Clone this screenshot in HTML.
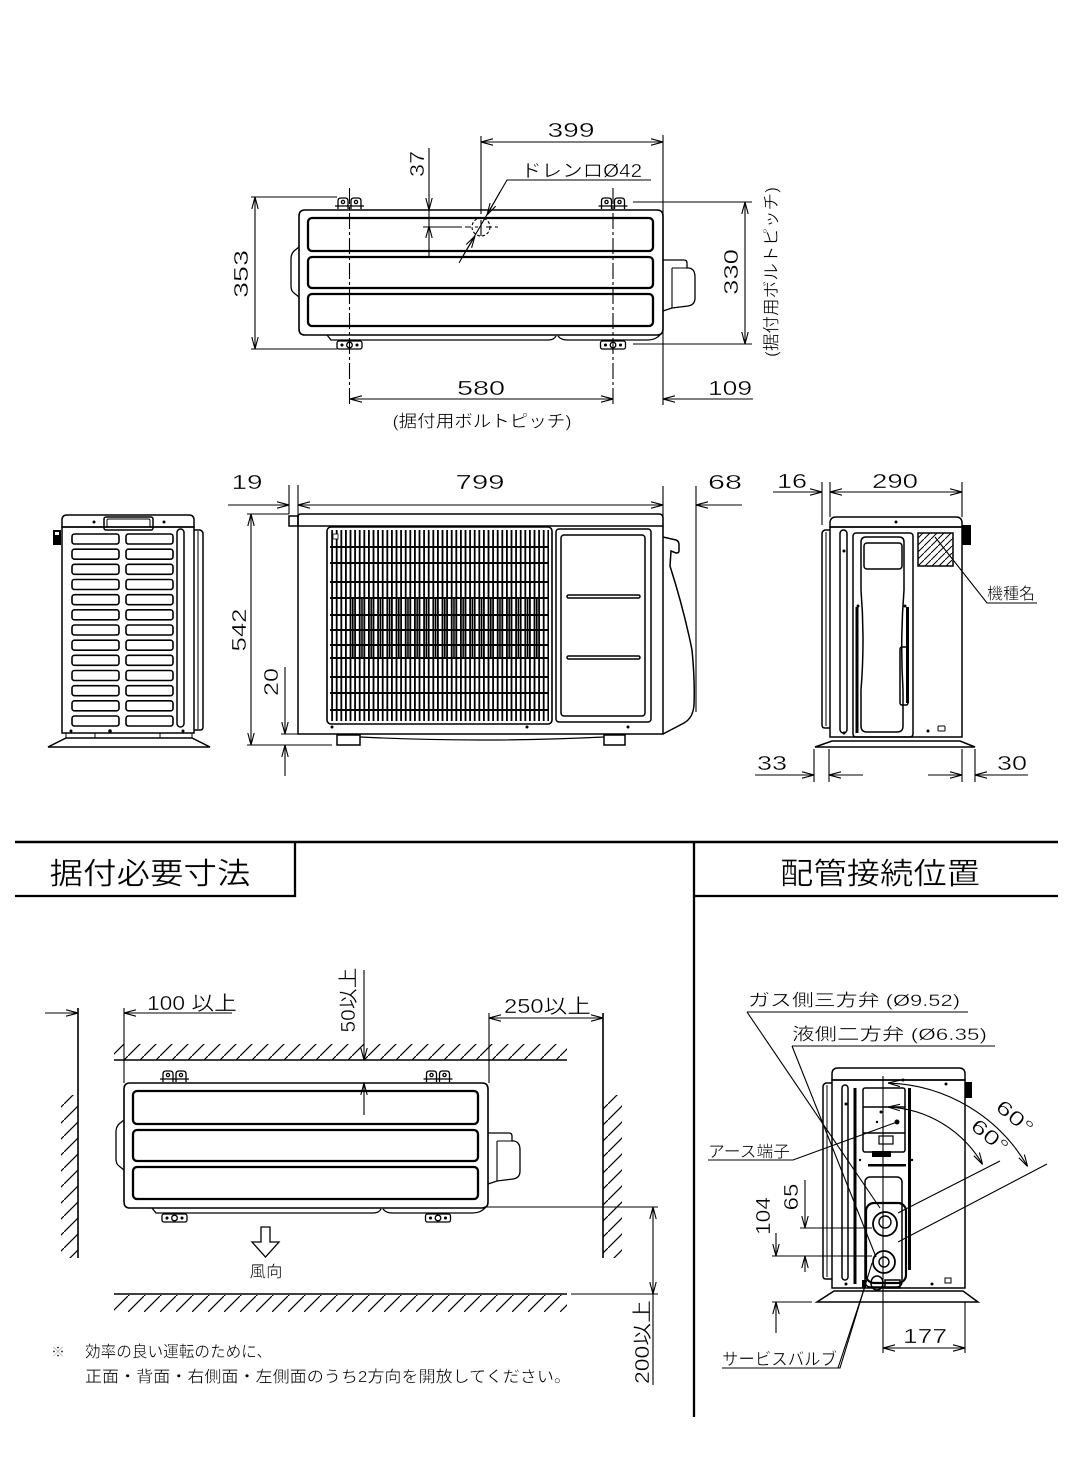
<!DOCTYPE html>
<html><head><meta charset="utf-8"><style>
html,body{margin:0;padding:0;background:#fff;}
svg{display:block;}
text{font-family:"Liberation Sans","Noto Sans CJK JP",sans-serif;fill:#000;stroke:#fff;stroke-width:0.35;}
.d{stroke:#000;stroke-width:1.1;fill:none;}
.dm{marker-start:url(#a);marker-end:url(#a);}
.de{marker-end:url(#a);}
.cl{stroke-dasharray:16 3 3 3;}
</style></head><body>
<svg width="1073" height="1477" viewBox="0 0 1073 1477" xmlns="http://www.w3.org/2000/svg">
<defs>
<marker id="a" viewBox="0 0 12 8" refX="12" refY="4" markerWidth="12" markerHeight="8" markerUnits="userSpaceOnUse" orient="auto-start-reverse"><path d="M0,0.8 L12,4 L0,7.2" fill="none" stroke="#000" stroke-width="1.1"/></marker>
<pattern id="h16" width="16" height="16" patternUnits="userSpaceOnUse"><path d="M0,16 L16,0" stroke="#000" stroke-width="1.2"/></pattern>
<pattern id="h7" width="7" height="7" patternUnits="userSpaceOnUse"><path d="M0,7 L7,0" stroke="#000" stroke-width="1"/></pattern>
<pattern id="vg" width="4.6" height="10" patternUnits="userSpaceOnUse"><rect x="0" y="0" width="1.8" height="10" fill="#000"/></pattern>
<pattern id="vg2" width="9.2" height="10" patternUnits="userSpaceOnUse"><rect x="2.4" y="0" width="1.6" height="10" fill="#000"/></pattern>
<g id="tu" fill="none" stroke="#000">
 <path d="M305,210 H657 Q663,210 663,216 V329 Q663,335 657,335 H305 Q299,335 299,329 V216 Q299,210 305,210 Z" stroke-width="1.6"/>
 <path d="M299,247 L294,251 Q291,254 291,259 V286 Q291,291 294,293 L299,297" stroke-width="1.3"/>
 <rect x="308" y="218" width="345" height="33" rx="4" stroke-width="2.3"/>
 <rect x="308" y="257" width="345" height="31" rx="4" stroke-width="2.3"/>
 <rect x="308" y="294" width="345" height="32" rx="4" stroke-width="2.3"/>
 <path d="M327,335 L331,340 H548 Q554,340 556,336" stroke-width="1.3"/>
 <path d="M558,336 Q561,340 567,340 H648 Q656,340 661,334" stroke-width="1.3"/>
 <path d="M663,260 H684 Q687,260 687,263 V268 H689 Q695,269 695,277 V298 Q695,305 688,306 L672,308 L663,311" stroke-width="1.3"/>
 <path d="M672,268 H687 M672,268 V308" stroke-width="1.1"/>
 <g id="tb" stroke-width="1.3">
   <path d="M338,209 V201 Q338,198 341,198 H345 Q348,198 348,201 V209"/>
   <path d="M351,209 V201 Q351,198 354,198 H358 Q361,198 361,201 V209"/>
   <path d="M335,206 H364"/>
   <circle cx="343" cy="202" r="1.6"/><circle cx="356" cy="202" r="1.6"/>
 </g>
 <use href="#tb" x="263.5"/>
 <g id="bb" stroke-width="1.3">
   <rect x="337" y="341" width="25" height="8" rx="2"/>
   <circle cx="349.5" cy="345" r="2.8"/>
   <circle cx="342" cy="345" r="0.9" fill="#000"/><circle cx="357" cy="345" r="0.9" fill="#000"/>
 </g>
 <use href="#bb" x="263.5"/>
</g>
<g id="lv" fill="none" stroke="#000" stroke-width="1.6">
 <rect x="72" y="534" width="47" height="10" rx="2.5"/>
 <rect x="126" y="534" width="47" height="10" rx="2.5"/>
</g>
</defs>
<rect width="1073" height="1477" fill="#fff"/>

<!-- ============ TOP VIEW ============ -->
<use href="#tu"/>
<g class="d">
 <path class="cl" d="M349.5,188 V405 M613,188 V405"/>
 <path class="dm" d="M255,197 V349"/>
 <path d="M251,197 H337 M251,349 H337"/>
 <path class="dm" d="M745,202 V344"/>
 <path d="M633,202 H752 M633,344 H752"/>
 <path class="dm" d="M481,142 H663"/>
 <path d="M481,136 V214 M663,135 V405"/>
 <path class="de" d="M429,148 V210"/><path class="de" d="M429,258 V226"/><path d="M429,210 V226"/>
 <path d="M423,227 H462 M465,227 H471 M475,227 H478 M486,227 H492 M495,227 H498"/>
 <circle cx="481" cy="227" r="9" stroke-dasharray="3 2"/>
 <path d="M481,220 V236"/>
 <path d="M651,180 H507 L459,263"/>
 <path class="de" d="M500,192 L487,215"/>
 <path class="de" d="M463,256 L475,236"/>
 <path class="dm" d="M350,399 H613"/>
 <path class="de" d="M753,399 H663"/>
</g>
<text x="571" y="137" font-size="20" text-anchor="middle" textLength="47" lengthAdjust="spacingAndGlyphs">399</text>
<text x="521" y="177" font-size="18" textLength="121" lengthAdjust="spacingAndGlyphs">ドレンロØ42</text>
<text transform="translate(417,164) rotate(-90)" dy="7" font-size="20" text-anchor="middle" textLength="26" lengthAdjust="spacingAndGlyphs">37</text>
<text transform="translate(241,274) rotate(-90)" dy="7" font-size="20" text-anchor="middle" textLength="48" lengthAdjust="spacingAndGlyphs">353</text>
<text transform="translate(731,272) rotate(-90)" dy="7" font-size="20" text-anchor="middle" textLength="46" lengthAdjust="spacingAndGlyphs">330</text>
<text transform="translate(771,272) rotate(-90)" dy="6" font-size="17" text-anchor="middle" textLength="170" lengthAdjust="spacingAndGlyphs">(据付用ボルトピッチ)</text>
<text x="481" y="395" font-size="20" text-anchor="middle" textLength="48" lengthAdjust="spacingAndGlyphs">580</text>
<text x="730" y="395" font-size="20" text-anchor="middle" textLength="44" lengthAdjust="spacingAndGlyphs">109</text>
<text x="482" y="427" font-size="17" text-anchor="middle" textLength="179" lengthAdjust="spacingAndGlyphs">(据付用ボルトピッチ)</text>

<!-- ============ LEFT SIDE VIEW ============ -->
<g fill="none" stroke="#000" stroke-width="1.5">
 <path d="M62,527 V520 Q62,515 67,515 H189 Q194,515 194,520 V527 Z"/>
 <rect x="104" y="517" width="49" height="13" rx="2"/>
 <rect x="107" y="519" width="43" height="8" rx="1.5" stroke-width="1"/>
 <rect x="62" y="527" width="132" height="206"/>
 <path d="M194,530 H200 Q203,531 203,534 V727 Q203,730 200,730 H194"/>
 <path d="M198,531 V729" stroke-width="1"/>
 <rect x="177" y="529" width="7" height="198" rx="3.5"/>
 <path d="M48,747 L66,738 H192 L210,747 Z"/>
 <path d="M66,733 V738 M192,733 V738 M95,733 V738 M160,733 V738" stroke-width="1"/>
</g>
<rect x="53" y="530" width="8" height="15" fill="#000"/>
<rect x="55" y="532" width="4" height="3" fill="#fff"/>
<circle cx="94" cy="522" r="1.5"/><circle cx="164" cy="522" r="1.5"/>
<circle cx="71" cy="731" r="1.5"/><circle cx="110" cy="731" r="1.8"/><circle cx="183" cy="731" r="1.5"/>
<use href="#lv"/>
<use href="#lv" y="15.17"/><use href="#lv" y="30.33"/><use href="#lv" y="45.5"/>
<use href="#lv" y="60.67"/><use href="#lv" y="75.83"/><use href="#lv" y="91"/>
<use href="#lv" y="106.17"/><use href="#lv" y="121.33"/><use href="#lv" y="136.5"/>
<use href="#lv" y="151.67"/><use href="#lv" y="166.83"/><use href="#lv" y="182"/>

<!-- ============ FRONT VIEW ============ -->
<g fill="none" stroke="#000" stroke-width="1.5">
 <path d="M298,526 V517 Q298,514 301,514 H659 Q663,514 663,518 V526 Z"/>
 <rect x="289" y="516" width="9" height="10"/>
 <path d="M298,526 V734 H663 V526"/>
 <path d="M663,537 L676,540 Q679,541 679,545 V551 Q679,553 676,553 L671,551 L670,566 Q684,610 692,650 Q695,680 694,705 Q693,718 684,723 L663,734"/>
 <rect x="327" y="527" width="225" height="197" rx="4" stroke-width="1.6"/>
 <rect x="556" y="529" width="95" height="193" rx="3"/>
 <rect x="561" y="535" width="84" height="181" rx="3"/>
 <rect x="567" y="595" width="73" height="3" rx="1.5"/>
 <rect x="567" y="656" width="73" height="3" rx="1.5"/>
 <rect x="337" y="735" width="23" height="10"/>
 <rect x="604" y="735" width="21" height="10"/>
 <path d="M360,737 Q480,743 604,737" stroke-width="1.2"/>
</g>
<rect x="330" y="530" width="219" height="191" fill="url(#vg)"/>
<rect x="345" y="598" width="195" height="60" fill="url(#vg2)"/>
<g stroke="#000" stroke-width="2">
 <path d="M330,547 H549 M330,563 H549 M330,582 H549 M330,598 H549 M330,615 H549 M330,630 H549 M330,645 H549 M330,658 H549 M330,677 H549 M330,693 H549 M330,710 H549"/>
</g>
<rect x="333" y="534" width="5" height="5" fill="#fff" stroke="#000" stroke-width="0.8"/>
<circle cx="332" cy="727" r="1.5"/><circle cx="527" cy="727" r="1.5"/><circle cx="628" cy="727" r="1.5"/>
<g class="d">
 <path class="de" d="M228,505 H289"/>
 <path class="dm" d="M298,505 H663"/>
 <path class="de" d="M742,505 H696"/>
 <path d="M289,485 V514 M298,485 V526 M663,486 V536 M696,486 V712"/>
 <path class="dm" d="M251,514 V745"/>
 <path d="M247,514 H289 M247,745 H332"/>
 <path class="de" d="M285,667 V734"/><path class="de" d="M285,776 V745"/>
 <path d="M281,734 H298"/>
</g>
<text x="247" y="489" font-size="20" text-anchor="middle" textLength="31" lengthAdjust="spacingAndGlyphs">19</text>
<text x="480" y="489" font-size="20" text-anchor="middle" textLength="49" lengthAdjust="spacingAndGlyphs">799</text>
<text x="725" y="489" font-size="20" text-anchor="middle" textLength="34" lengthAdjust="spacingAndGlyphs">68</text>
<text transform="translate(239,630) rotate(-90)" dy="7" font-size="20" text-anchor="middle" textLength="43" lengthAdjust="spacingAndGlyphs">542</text>
<text transform="translate(271,682) rotate(-90)" dy="7" font-size="20" text-anchor="middle" textLength="28" lengthAdjust="spacingAndGlyphs">20</text>

<!-- ============ RIGHT SIDE VIEW ============ -->
<g fill="none" stroke="#000" stroke-width="1.5">
 <path d="M830,527 V523 Q830,517 836,517 H956 Q962,517 962,523 V527 Z"/>
 <rect x="830" y="527" width="132" height="210"/>
 <path d="M830,530 H825 Q822,531 822,534 V725 Q822,728 825,728 H830"/>
 <path d="M826,532 V726" stroke-width="1"/>
 <rect x="840" y="530" width="7" height="203" rx="3.5"/>
 <rect x="853" y="533" width="60" height="204" rx="3"/>
 <path d="M861,542 Q861,537 866,537 H899 Q904,537 904,542 V590 Q900,640 903,690 V726 Q903,732 897,732 H867 Q861,732 861,726 V690 Q865,640 861,590 Z"/>
 <rect x="864" y="543" width="38" height="26" rx="3"/>
 <rect x="900" y="647" width="8" height="58" rx="2"/>
 <rect x="918" y="533" width="35" height="33"/>
 <path d="M815,747 L832,741 H960 L975,747 Z"/>
 <rect x="938" y="726" width="7" height="5" rx="1" stroke-width="1"/>
</g>
<rect x="962" y="525" width="9" height="20" fill="#000"/>
<rect x="855.5" y="607" width="3" height="126" fill="#000"/>
<rect x="906" y="607" width="3" height="96" fill="#000"/>
<rect x="918" y="533" width="35" height="33" fill="url(#h7)"/>
<circle cx="896" cy="522" r="1.5"/><circle cx="844" cy="551" r="1.5"/>
<circle cx="858" cy="606" r="1.5"/><circle cx="905" cy="606" r="1.5"/><circle cx="928" cy="731" r="1.5"/><circle cx="844" cy="733" r="1.5"/>
<g class="d">
 <path d="M935,537 L987,603 H1037"/>
 <path class="de" d="M773,492 H822"/>
 <path class="dm" d="M830,492 H962"/>
 <path d="M822,482 V525 M830,482 V517 M962,482 V517"/>
 <path class="de" d="M755,775 H814"/><path class="de" d="M863,775 H829"/>
 <path d="M814,749 V782 M829,749 V782"/>
 <path class="de" d="M928,775 H962"/><path class="de" d="M1028,775 H975"/>
 <path d="M962,749 V782 M975,749 V782"/>
</g>
<text x="792" y="488" font-size="20" text-anchor="middle" textLength="30" lengthAdjust="spacingAndGlyphs">16</text>
<text x="895" y="488" font-size="20" text-anchor="middle" textLength="46" lengthAdjust="spacingAndGlyphs">290</text>
<text x="772" y="770" font-size="20" text-anchor="middle" textLength="30" lengthAdjust="spacingAndGlyphs">33</text>
<text x="1012" y="770" font-size="20" text-anchor="middle" textLength="30" lengthAdjust="spacingAndGlyphs">30</text>
<text x="987" y="599" font-size="16" textLength="48" lengthAdjust="spacingAndGlyphs">機種名</text>

<!-- ============ FRAME ============ -->
<g stroke="#000" fill="none">
 <path d="M15,842 H1058" stroke-width="2.6"/>
 <path d="M295,842 V896 H15" stroke-width="2.3"/>
 <path d="M694,842 V1417" stroke-width="2.3"/>
 <path d="M694,896 H1058" stroke-width="2.3"/>
</g>
<text x="150" y="884" font-size="30" text-anchor="middle" textLength="201" lengthAdjust="spacingAndGlyphs">据付必要寸法</text>
<text x="880" y="884" font-size="30" text-anchor="middle" textLength="200" lengthAdjust="spacingAndGlyphs">配管接続位置</text>

<!-- ============ INSTALL DIAGRAM ============ -->
<use href="#tu" transform="translate(-175,873)"/>
<rect x="114" y="1044" width="453" height="16" fill="url(#h16)"/>
<rect x="114" y="1295" width="453" height="17" fill="url(#h16)"/>
<rect x="61" y="1095" width="17" height="163" fill="url(#h16)"/>
<rect x="603" y="1095" width="19" height="163" fill="url(#h16)"/>
<g stroke="#000" fill="none" stroke-width="1.6">
 <path d="M114,1060 H567 M114,1294 H567"/>
 <path d="M78,1008 V1258 M603,1013 V1258"/>
</g>
<g class="d">
 <path d="M571,1294 H658"/>
 <path class="de" d="M45,1013 H78"/><path class="de" d="M232,1013 H124"/>
 <path d="M124,1008 V1083"/>
 <path class="dm" d="M489,1018 H603"/>
 <path d="M489,1013 V1083"/>
 <path class="de" d="M364,970 V1060"/><path class="de" d="M364,1115 V1083"/>
 <path d="M484,1207 H658"/>
 <path class="dm" d="M653,1207 V1294"/>
 <path d="M653,1294 V1385"/>
</g>
<path d="M261,1227 H270 V1242 H279 L265.5,1257 L252,1242 H261 Z" fill="none" stroke="#000" stroke-width="1.3"/>
<text x="266" y="1277" font-size="16" text-anchor="middle" textLength="33" lengthAdjust="spacingAndGlyphs">風向</text>
<text x="147" y="1010" font-size="20" textLength="90" lengthAdjust="spacingAndGlyphs">100 以上</text>
<text x="504" y="1013" font-size="20" textLength="87" lengthAdjust="spacingAndGlyphs">250以上</text>
<text transform="translate(348,1000) rotate(-90)" dy="7" font-size="20" text-anchor="middle" textLength="65" lengthAdjust="spacingAndGlyphs">50以上</text>
<text transform="translate(642,1342) rotate(-90)" dy="7" font-size="20" text-anchor="middle" textLength="84" lengthAdjust="spacingAndGlyphs">200以上</text>
<text x="51" y="1357" font-size="14">※</text>
<text x="85" y="1357" font-size="16" textLength="187" lengthAdjust="spacingAndGlyphs">効率の良い運転のために、</text>
<text x="85" y="1382" font-size="16" textLength="486" lengthAdjust="spacingAndGlyphs">正面・背面・右側面・左側面のうち2方向を開放してください。</text>

<!-- ============ PIPING VIEW ============ -->
<g fill="none" stroke="#000" stroke-width="1.5">
 <path d="M832,1080 V1074 Q832,1068 838,1068 H959 Q965,1068 965,1074 V1080 Z"/>
 <rect x="832" y="1080" width="133" height="208"/>
 <path d="M832,1083 H826 Q823,1084 823,1087 V1276 Q823,1279 826,1279 H832"/>
 <path d="M827,1085 V1277" stroke-width="1"/>
 <rect x="842" y="1085" width="6" height="195" rx="3"/>
 <path d="M817,1302 L834,1291 H963 L978,1302 Z"/>
 <rect x="863" y="1088" width="42" height="64" rx="2"/>
 <path d="M863,1107 H905 M863,1133 H905"/>
 <rect x="879" y="1136" width="14" height="8" stroke-width="1.2"/>
 <rect x="865" y="1177" width="37" height="110" rx="5"/>
 <rect x="866" y="1203" width="40" height="80" rx="8" stroke-width="2.2"/>
 <circle cx="885" cy="1224" r="12" stroke-width="1.8"/>
 <circle cx="885" cy="1222" r="6" stroke-width="1.4"/>
 <circle cx="884" cy="1262" r="11" stroke-width="1.8"/>
 <circle cx="884" cy="1262" r="5" stroke-width="1.4"/>
 <ellipse cx="877" cy="1283" rx="6" ry="7"/>
 <rect x="885" y="1280" width="15" height="8"/>
</g>
<rect x="965" y="1082" width="7" height="16" fill="#000"/>
<rect x="853.5" y="1088" width="3" height="196" fill="#000"/>
<rect x="908" y="1088" width="3" height="182" fill="#000"/>
<rect x="872" y="1151" width="19" height="6" fill="#000"/>
<rect x="868" y="1164" width="38" height="2.5" fill="#000"/>
<rect x="862" y="1280" width="4" height="8" fill="#000"/>
<circle cx="897" cy="1122" r="2.5"/><circle cx="903" cy="1080" r="1.5"/><circle cx="946" cy="1084" r="1.5"/>
<circle cx="846" cy="1104" r="1.5"/><circle cx="881" cy="1112" r="1.5"/><circle cx="877" cy="1122" r="1.2"/>
<circle cx="860" cy="1160" r="1.2"/><circle cx="912" cy="1160" r="1.2"/><circle cx="846" cy="1284" r="1.5"/><circle cx="932" cy="1284" r="1.5"/>
<rect x="945" y="1278" width="6" height="5" fill="none" stroke="#000" stroke-width="1"/>
<g class="d">
 <path d="M883,1076 V1353"/>
 <path class="dm" d="M888,1083 A167,167 0 0 1 1027.6,1166.5"/>
 <path class="dm" d="M888,1107 A115,115 0 0 1 982.6,1164.5"/>
 <path d="M898,1242 L1047,1164"/>
 <path d="M898,1213 L1000,1161"/>
 <path d="M747,1012 H968"/>
 <path d="M747,1012 L880,1208"/>
 <path d="M792,1046 H995"/>
 <path d="M792,1046 L876,1257"/>
 <path d="M708,1160 H793 L897,1122"/>
 <path d="M722,1368 H840 L872,1263"/>
 <path d="M838,1368 L866,1283"/>
 <path d="M800,1228 H872 M772,1256 H872 M772,1302 H812"/>
 <path class="de" d="M805,1180 V1228"/><path class="de" d="M805,1272 V1256"/>
 <path class="de" d="M776,1233 V1256"/><path class="de" d="M776,1333 V1302"/>
 <path class="dm" d="M883,1348 H965"/>
 <path d="M965,1302 V1353"/>
</g>
<text x="748" y="1006" font-size="17" textLength="212" lengthAdjust="spacingAndGlyphs">ガス側三方弁 (Ø9.52)</text>
<text x="792" y="1040" font-size="17" textLength="195" lengthAdjust="spacingAndGlyphs">液側二方弁 (Ø6.35)</text>
<text x="708" y="1157" font-size="16" textLength="82" lengthAdjust="spacingAndGlyphs">アース端子</text>
<text x="722" y="1365" font-size="17" textLength="115" lengthAdjust="spacingAndGlyphs">サービスバルブ</text>
<text transform="translate(1015,1117) rotate(40)" dy="7" font-size="20" text-anchor="middle" textLength="42" lengthAdjust="spacingAndGlyphs">60°</text>
<text transform="translate(990,1136) rotate(40)" dy="7" font-size="20" text-anchor="middle" textLength="42" lengthAdjust="spacingAndGlyphs">60°</text>
<text transform="translate(763,1216) rotate(-90)" dy="7" font-size="20" text-anchor="middle" textLength="38" lengthAdjust="spacingAndGlyphs">104</text>
<text transform="translate(791,1197) rotate(-90)" dy="7" font-size="20" text-anchor="middle" textLength="27" lengthAdjust="spacingAndGlyphs">65</text>
<text x="925" y="1343" font-size="20" text-anchor="middle" textLength="44" lengthAdjust="spacingAndGlyphs">177</text>
</svg>
</body></html>
